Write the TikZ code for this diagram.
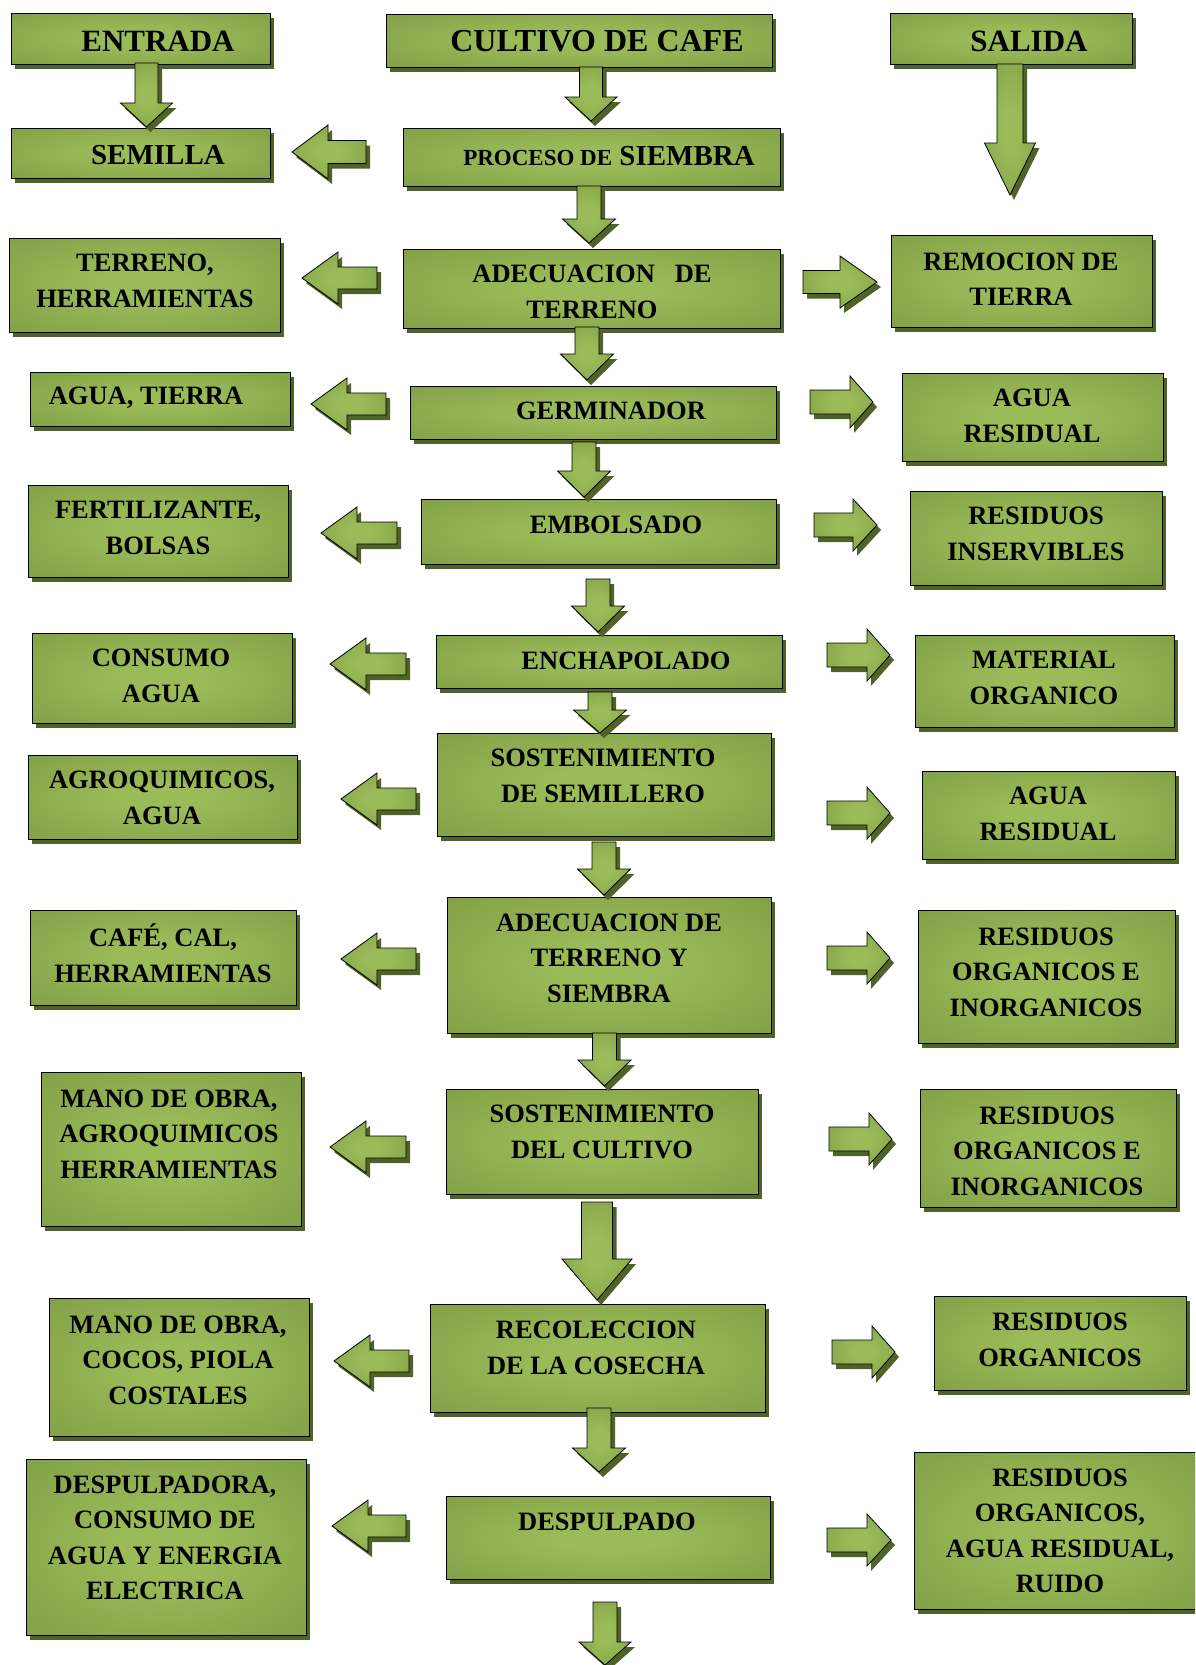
\documentclass[tikz,border=0pt]{standalone}
\usepackage{fontspec}
\setmainfont{Liberation Serif}
\usetikzlibrary{shadows}

\definecolor{vclaro}{RGB}{155,187,89}
\definecolor{voscuro}{RGB}{118,146,60}
\definecolor{vsombra}{RGB}{79,98,40}
\pgfdeclareradialshading{verde}{\pgfpoint{0bp}{0bp}}{color(0bp)=(vclaro); color(8bp)=(vclaro); color(50bp)=(voscuro)}

\tikzset{
  sombra/.style={drop shadow={shadow xshift=4pt, shadow yshift=-5pt, opacity=1, fill=vsombra}},
  caja/.style={rectangle, draw=black, line width=0.8pt, shade, shading=verde, sombra, inner sep=0pt},
  texto/.style={align=center, font=\bfseries\fontsize{26.5}{35.5}\selectfont},
  titulo/.style={font=\bfseries\fontsize{31}{36}\selectfont},
  pics/flecha/.style args={#1/#2/#3/#4}{code={
    \path[draw=black, line width=0.8pt, shade, shading=verde, sombra]
      (0,-#3) -- (#1-#2,-#3) -- (#1-#2,-#4) -- (#1,0) -- (#1-#2,#4) -- (#1-#2,#3) -- (0,#3) -- cycle;
  }},
}

\begin{document}
\begin{tikzpicture}[x=1pt, y=-1pt]
\useasboundingbox (0,0) rectangle (1195,1665);
\clip (0,0) rectangle (1195,1665);

%entradas
\node[caja, minimum width=259, minimum height=51] (e0) at (140.5,38.5) {};
\node[titulo] (e0t) at (158,41) {ENTRADA};
\node[caja, minimum width=259, minimum height=50] (e1) at (140.5,153) {};
\node[texto, font=\bfseries\fontsize{29}{34}\selectfont] (e1t) at (158,155) {SEMILLA};
\node[caja, minimum width=271, minimum height=94] (e2) at (144.5,285) {};
\node[texto] (e2t) at (145,281) {TERRENO,\\HERRAMIENTAS};
\node[caja, minimum width=260, minimum height=54] (e3) at (160,399) {};
\node[texto] (e3t) at (146,398) {AGUA, TIERRA};
\node[caja, minimum width=260, minimum height=92] (e4) at (158,531) {};
\node[texto] (e4t) at (158,528) {FERTILIZANTE,\\BOLSAS};
\node[caja, minimum width=260, minimum height=90] (e5) at (162,678) {};
\node[texto] (e5t) at (161,676) {CONSUMO\\AGUA};
\node[caja, minimum width=269, minimum height=84] (e6) at (162.5,797) {};
\node[texto] (e6t) at (162,798) {AGROQUIMICOS,\\AGUA};
\node[caja, minimum width=266, minimum height=95] (e7) at (163,957.5) {};
\node[texto] (e7t) at (163,953) {CAFÉ, CAL,\\HERRAMIENTAS};
\node[caja, minimum width=260, minimum height=154] (e8) at (171,1149) {};
\node[texto] (e8t) at (169,1134) {MANO DE OBRA,\\AGROQUIMICOS\\HERRAMIENTAS};
\node[caja, minimum width=260, minimum height=138] (e9) at (179,1367) {};
\node[texto] (e9t) at (178,1360) {MANO DE OBRA,\\COCOS, PIOLA\\COSTALES};
\node[caja, minimum width=280, minimum height=176] (e10) at (166,1547) {};
\node[texto] (e10t) at (165,1538) {DESPULPADORA,\\CONSUMO DE\\AGUA Y ENERGIA\\ELECTRICA};

%proceso
\node[caja, minimum width=386, minimum height=53] (p0) at (579,40.5) {};
\node[titulo, font=\bfseries\fontsize{32}{37}\selectfont] (p0t) at (597,41) {CULTIVO DE CAFE};
\node[caja, minimum width=377, minimum height=58] (p1) at (591.5,157) {};
\node[texto, font=\bfseries\fontsize{29}{34}\selectfont] (p1t) at (609,156) {{\fontsize{23}{27}\selectfont PROCESO DE} SIEMBRA};
\node[caja, minimum width=377, minimum height=79] (p2) at (591.5,288.5) {};
\node[texto] (p2t) at (592,292) {ADECUACION\ \ \ DE\\TERRENO};
\node[caja, minimum width=366, minimum height=53] (p3) at (593,412.5) {};
\node[texto] (p3t) at (611,411) {GERMINADOR};
\node[caja, minimum width=355, minimum height=65] (p4) at (598.5,531.5) {};
\node[texto] (p4t) at (616,525) {EMBOLSADO};
\node[caja, minimum width=346, minimum height=53] (p5) at (609,661.5) {};
\node[texto] (p5t) at (626,661) {ENCHAPOLADO};
\node[caja, minimum width=334, minimum height=103] (p6) at (604,784.5) {};
\node[texto] (p6t) at (603,776) {SOSTENIMIENTO\\DE SEMILLERO};
\node[caja, minimum width=324, minimum height=136] (p7) at (609,965) {};
\node[texto] (p7t) at (609,958) {ADECUACION DE\\TERRENO Y\\SIEMBRA};
\node[caja, minimum width=312, minimum height=105] (p8) at (602,1141.5) {};
\node[texto] (p8t) at (602,1132) {SOSTENIMIENTO\\DEL CULTIVO};
\node[caja, minimum width=335, minimum height=108] (p9) at (597.5,1358) {};
\node[texto] (p9t) at (596,1348) {RECOLECCION\\DE LA COSECHA};
\node[caja, minimum width=324, minimum height=83] (p10) at (608,1537.5) {};
\node[texto] (p10t) at (607,1522) {DESPULPADO};

%salidas
\node[caja, minimum width=242, minimum height=51] (s0) at (1011,38.5) {};
\node[titulo] (s0t) at (1029,41) {SALIDA};
\node[caja, minimum width=261, minimum height=92] (s1) at (1021.5,281) {};
\node[texto] (s1t) at (1021,279) {REMOCION DE\\TIERRA};
\node[caja, minimum width=261, minimum height=88] (s2) at (1032.5,417) {};
\node[texto] (s2t) at (1032,416) {AGUA\\RESIDUAL};
\node[caja, minimum width=252, minimum height=94] (s3) at (1036,538) {};
\node[texto] (s3t) at (1036,534) {RESIDUOS\\INSERVIBLES};
\node[caja, minimum width=259, minimum height=92] (s4) at (1044.5,681) {};
\node[texto] (s4t) at (1044,678) {MATERIAL\\ORGANICO};
\node[caja, minimum width=253, minimum height=88] (s5) at (1048.5,815) {};
\node[texto] (s5t) at (1048,814) {AGUA\\RESIDUAL};
\node[caja, minimum width=257, minimum height=133] (s6) at (1046.5,976.5) {};
\node[texto] (s6t) at (1046,972) {RESIDUOS\\ORGANICOS E\\INORGANICOS};
\node[caja, minimum width=256, minimum height=118] (s7) at (1048,1148) {};
\node[texto] (s7t) at (1047,1151) {RESIDUOS\\ORGANICOS E\\INORGANICOS};
\node[caja, minimum width=252, minimum height=94] (s8) at (1060,1343) {};
\node[texto] (s8t) at (1060,1340) {RESIDUOS\\ORGANICOS};
\node[caja, minimum width=284, minimum height=157] (s9) at (1056,1530.5) {};
\node[texto] (s9t) at (1060,1531) {RESIDUOS\\ORGANICOS,\\AGUA RESIDUAL,\\RUIDO};

%flechas hacia abajo
\pic[rotate=-90] at (146.5,63) {flecha=64/24/11.5/26};
\pic[rotate=-90] at (591,67) {flecha=54/24/11.5/26};
\pic[rotate=-90] at (589,186) {flecha=57/24/12/26.5};
\pic[rotate=-90] at (587,327) {flecha=53/26/12/26.5};
\pic[rotate=-90] at (584,442) {flecha=55/26/12/26.5};
\pic[rotate=-90] at (598,579) {flecha=53/26/12/26.5};
\pic[rotate=-90] at (600,692) {flecha=41/23/12/26.5};
\pic[rotate=-90] at (604,842) {flecha=53/26/12/26.5};
\pic[rotate=-90] at (604.5,1033) {flecha=53/26/12/26.5};
\pic[rotate=-90] at (597,1202) {flecha=98/41/15.5/35};
\pic[rotate=-90] at (599,1408) {flecha=64/24/12/26.5};
\pic[rotate=-90] at (605,1602) {flecha=63/23/12/26};
\pic[rotate=-90] at (1010,64) {flecha=131/52/13/25.5};

%flechas de entrada (hacia la izquierda)
\pic[rotate=180] at (366,152) {flecha=74/36/11.5/27};
\pic[rotate=180] at (377,278) {flecha=75/36/11/26};
\pic[rotate=180] at (386,404) {flecha=75/36/11/26};
\pic[rotate=180] at (397,533) {flecha=76/36/11/26};
\pic[rotate=180] at (406,664) {flecha=76/36/11/26};
\pic[rotate=180] at (416,799) {flecha=75/36/11/26};
\pic[rotate=180] at (416,959) {flecha=75/36/11/26};
\pic[rotate=180] at (406,1147) {flecha=76/36/11/26};
\pic[rotate=180] at (409,1361) {flecha=75/36/11/26};
\pic[rotate=180] at (406,1526) {flecha=74/36/11/26};

%flechas de salida (hacia la derecha)
\pic at (803,282) {flecha=74/37/11.5/26};
\pic at (810,402) {flecha=63/23/12/26};
\pic at (814,525) {flecha=63/24/12/26};
\pic at (827,655) {flecha=63/23/12/26};
\pic at (827,813) {flecha=63/23/12/26};
\pic at (827,958) {flecha=63/23/12/26};
\pic at (829,1139) {flecha=63/23/12/26};
\pic at (832,1352) {flecha=63/23/12/26};
\pic at (827,1540) {flecha=64/24/12/26};
\end{tikzpicture}
\end{document}
